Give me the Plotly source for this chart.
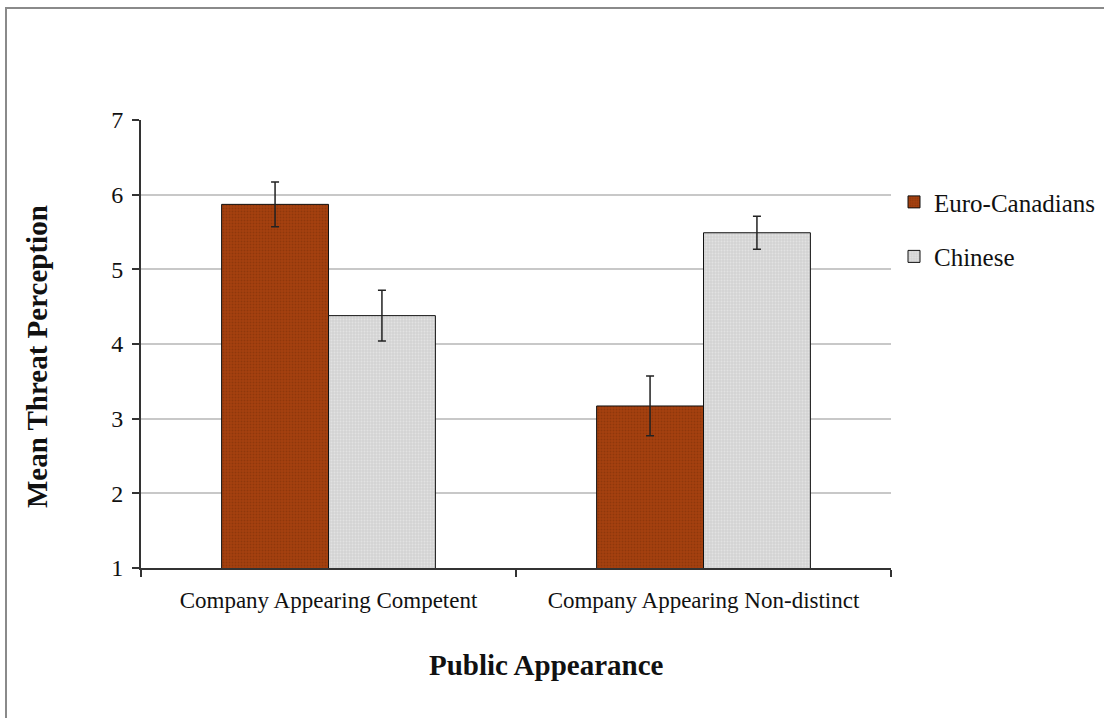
import plotly.graph_objects as go

# Study data: mean threat perception by public appearance condition
categories = ["Company Appearing Competent", "Company Appearing Non-distinct"]
euro_means = [5.87, 3.17]
euro_err = [0.30, 0.40]
chinese_means = [4.38, 5.49]
chinese_err = [0.34, 0.22]

y_ticks = [1, 2, 3, 4, 5, 6, 7]

serif = "Liberation Serif, Times New Roman, serif"

fig = go.Figure()

fig.add_trace(go.Bar(
    name="Euro-Canadians",
    x=categories,
    y=euro_means,
    legendgroup="euro",
    marker=dict(
        color="#a6410f",
        line=dict(color="#111111", width=1),
        pattern=dict(shape=".", fgcolor="#7a2e08", size=3, solidity=0.35),
    ),
    error_y=dict(type="data", array=euro_err, color="#222222", thickness=1.5, width=4),
))

fig.add_trace(go.Bar(
    name="Chinese",
    x=categories,
    y=chinese_means,
    legendgroup="chinese",
    marker=dict(
        color="#d2d2d2",
        line=dict(color="#111111", width=1),
        pattern=dict(shape=".", fgcolor="#f2f2f2", size=3, solidity=0.35),
    ),
    error_y=dict(type="data", array=chinese_err, color="#222222", thickness=1.5, width=4),
))

# Outer chart frame
fig.add_shape(
    type="rect", xref="paper", yref="paper",
    x0=-0.18, x1=1.30, y0=-0.45, y1=1.25,
    line=dict(color="#8a8a8a", width=2), fillcolor="rgba(0,0,0,0)", layer="below",
)

# Axis titles
fig.add_annotation(
    text="<b>Mean Threat Perception</b>", textangle=-90,
    xref="paper", yref="paper", x=-0.1387, y=0.473,
    xanchor="center", yanchor="middle", showarrow=False,
    font=dict(family=serif, size=29, color="#111111"),
)
fig.add_annotation(
    text="<b>Public Appearance</b>",
    xref="paper", yref="paper", x=0.54, y=-0.2165,
    xanchor="center", yanchor="middle", showarrow=False,
    font=dict(family=serif, size=29, color="#111111"),
)

fig.update_layout(
    width=1104,
    height=718,
    margin=dict(l=141, r=213, t=120, b=150, autoexpand=False),
    paper_bgcolor="white",
    plot_bgcolor="white",
    barmode="group",
    bargap=0.43,
    bargroupgap=0,
    font=dict(family=serif, size=23, color="#111111"),
    showlegend=True,
    legend=dict(
        x=1.004, y=0.868, xanchor="left", yanchor="top",
        font=dict(family=serif, size=25, color="#111111"),
        tracegroupgap=19,
        itemwidth=30,
    ),
    xaxis=dict(
        showline=True, linecolor="#333333", linewidth=2,
        ticks="outside", ticklen=7, tickcolor="#333333", tickwidth=2,
        tickson="boundaries",
        tickfont=dict(family=serif, size=23),
        ticklabelstandoff=10,
        showgrid=False,
    ),
    yaxis=dict(
        range=[1, 7],
        tickvals=y_ticks,
        showline=True, linecolor="#333333", linewidth=2,
        ticks="outside", ticklen=7, tickcolor="#333333", tickwidth=2,
        tickfont=dict(family=serif, size=24),
        ticklabelstandoff=4,
        showgrid=True, gridcolor="#c8c8c8", gridwidth=1.5,
        zeroline=False,
    ),
)

fig.write_html("out.html")
